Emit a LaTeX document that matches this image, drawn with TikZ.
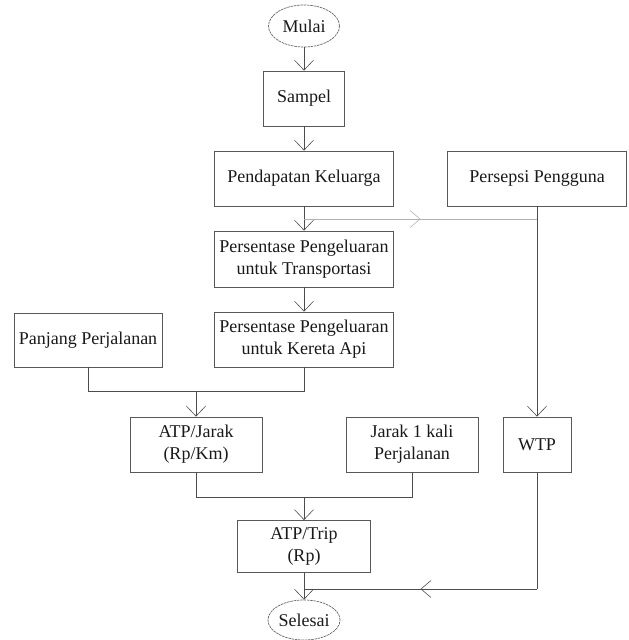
\documentclass[tikz,border=0pt]{standalone}
\usepackage{fontspec}
\setmainfont{Liberation Serif}
\usetikzlibrary{arrows.meta,shapes.geometric,decorations.markings}
\begin{document}
\begin{tikzpicture}[x=1pt,y=-1pt,
  every node/.style={font=\fontsize{18}{22}\selectfont, text=black!90, align=center, inner sep=0pt},
  box/.style={draw=black!65, line width=0.8pt, rectangle, minimum height=55pt},
  term/.style={draw=black!60, line width=0.7pt, ellipse, dash pattern=on 2.5pt off 0.8pt, minimum width=71pt, minimum height=42pt},
  conn/.style={draw=black!70, line width=0.7pt},
  arr/.style={conn, -{Straight Barb[length=10pt,width=19pt,line width=0.6pt]}},
  midarr/.style={conn, postaction={decorate}, decoration={markings,
     mark=at position 0.5 with {\arrow{Straight Barb[length=10pt,width=17pt,line width=0.6pt]}}}}
]
\useasboundingbox (0,0) rectangle (629,640);

\node[term] (mulai) at (304,26) {Mulai};
\node[box, minimum width=81pt] (sampel) at (304,98.5) {Sampel};
\node[box, minimum width=179pt] (pend) at (304,178.5) {Pendapatan Keluarga};
\node[box, minimum width=179pt] (pers) at (537,178.5) {Persepsi Pengguna};
\node[box, minimum width=179pt, minimum height=56pt] (trans) at (304,259) {Persentase Pengeluaran\\untuk Transportasi};
\node[box, minimum width=179pt] (kereta) at (304,339.5) {Persentase Pengeluaran\\untuk Kereta Api};
\node[box, minimum width=148pt, minimum height=54pt] (panjang) at (88,340) {Panjang Perjalanan};
\node[box, minimum width=132pt] (atpj) at (196,444.5) {ATP/Jarak\\(Rp/Km)};
\node[box, minimum width=132pt] (jarak) at (412,444.5) {Jarak 1 kali\\Perjalanan};
\node[box, minimum width=68pt] (wtp) at (537,444.5) {WTP};
\node[box, minimum width=133pt, minimum height=52pt] (atpt) at (304,546.5) {ATP/Trip\\(Rp)};
\node[term, minimum width=72pt, minimum height=40pt] (selesai) at (304,620) {Selesai};

\coordinate (b1) at (0,219);
\coordinate (j1) at (0,391);
\coordinate (j2) at (0,497);
\coordinate (j3) at (0,589);

\draw[arr] (mulai) -- (sampel);
\draw[arr] (sampel) -- (pend);
\draw[arr] (pend) -- (trans);
\draw[midarr, draw=black!30] (pend |- b1) -- (pers |- b1);
\draw[arr] (pers) -- (wtp);
\draw[arr] (trans) -- (kereta);
\draw[conn] (panjang) |- (kereta |- j1) -- (kereta);
\draw[arr] (atpj |- j1) -- (atpj);
\draw[conn] (atpj) |- (jarak |- j2) -- (jarak);
\draw[arr] (atpt |- j2) -- (atpt);
\draw[conn] (wtp) -- (wtp |- j3);
\draw[midarr] (wtp |- j3) -- (selesai |- j3);
\draw[arr] (atpt) -- (selesai);
\end{tikzpicture}
\end{document}
